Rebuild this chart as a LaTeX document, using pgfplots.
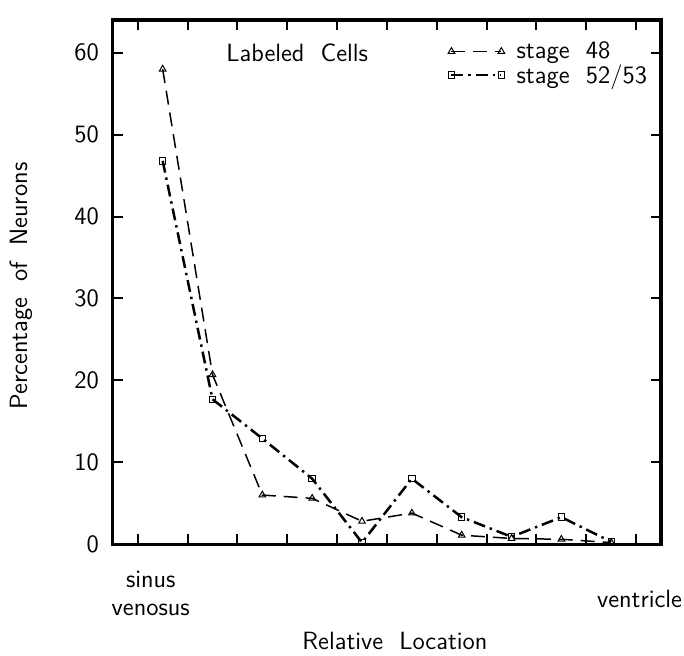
\documentclass[border=0pt]{standalone}
\usepackage{pgfplots}
\pgfplotsset{compat=1.18}
\usetikzlibrary{calc}
\newcommand{\ws}{\hspace{0.65em}}
\begin{document}
\sffamily
\begin{tikzpicture}[font=\sffamily\fontsize{12.5}{14}\selectfont]
\begin{axis}[
  name=ax,
  scale only axis,
  width=274.5pt,
  height=262.5pt,
  xmin=-0.5, xmax=10.5,
  ymin=0, ymax=64,
  xtick={0,...,10},
  xticklabels={},
  ytick={0,10,...,60},
  yticklabel pos=left,
  tick align=inside,
  major tick length=5pt,
  separate axis lines,
  axis line style={line width=1.6pt, line cap=rect},
  tick style={line width=1pt, black},
  ticklabel style={font=\sffamily\fontsize{12.5}{14}\selectfont},
  /pgf/number format/assume math mode=true,
  yticklabel style={xshift=-3.5pt},
  clip=false,
  legend style={draw=none, fill=none, at={(rel axis cs:0.6,0.975)}, anchor=north west,
    font=\sffamily\fontsize{12.5}{14}\selectfont, row sep=-2.5pt, column sep=4pt},
  legend cell align=left,
  legend image code/.code={\draw[#1] plot coordinates {(0pt,0pt) (25pt,0pt)};},
]
\addplot[black, line width=0.75pt, dash pattern=on 7pt off 4pt,
  mark=triangle, mark size=1.9pt, mark options={solid, line width=0.5pt, fill=white}]
  coordinates {(0.5,58.0) (1.5,20.7) (2.5,6.0) (3.5,5.6) (4.5,2.8) (5.5,3.8) (6.5,1.1) (7.5,0.7) (8.5,0.6) (9.5,0.2)};
\addplot[black, line width=1.25pt, dash pattern=on 6pt off 2.5pt on 1.2pt off 2.5pt,
  mark=square, mark size=1.6pt, mark options={solid, line width=0.5pt, fill=white}]
  coordinates {(0.5,46.8) (1.5,17.7) (2.5,12.9) (3.5,8.0) (4.5,0.2) (5.5,8.0) (6.5,3.3) (7.5,0.9) (8.5,3.3) (9.5,0.3)};
\legend{stage\ws 48, stage\ws 52/53}
\node at (axis cs:3.2,60) {Labeled\ws Cells};
\end{axis}
\node[anchor=north, align=center] at ($(ax.south west)+(19pt,-10pt)$) {sinus\\venosus};
\node[anchor=base, inner sep=0pt] at ($(ax.south east)+(-10.75pt,-31.5pt)$) {ventricle};
\node[anchor=base] at ($(ax.south)+(4pt,-52.5pt)$) {Relative\ws Location};
\node[rotate=90] at ($(ax.west)+(-46pt,-2pt)$) {Percentage\ws of\ws Neurons};
\path ($(ax.south west)+(-56.5pt,-55pt)$) rectangle ($(ax.north east)+(11.5pt,10pt)$);
\end{tikzpicture}
\end{document}
